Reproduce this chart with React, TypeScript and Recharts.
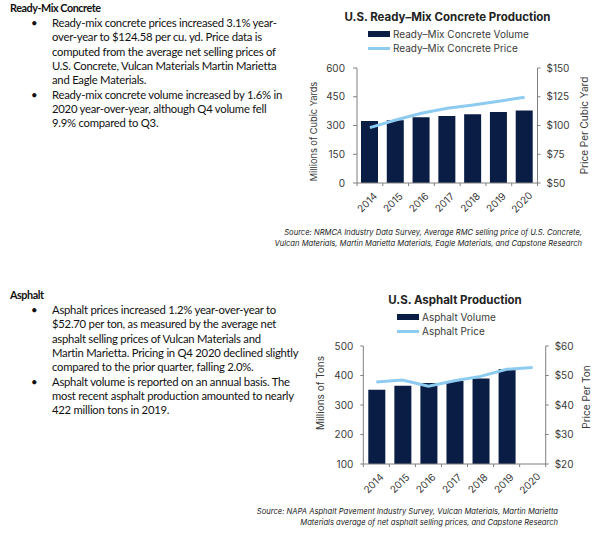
import React from 'react';
import { ComposedChart, Bar, Line, XAxis, YAxis } from 'recharts';

const years = ['2014', '2015', '2016', '2017', '2018', '2019', '2020'];

// ready-mix concrete
const rmcVolume = [324, 327, 343, 350, 359, 371, 378];
const rmcPrice = [98.1, 104.8, 110.6, 115.0, 117.9, 121.1, 124.6];
const rmcVolumeTicks = [0, 150, 300, 450, 600];
const rmcPriceTicks = [50, 75, 100, 125, 150];

// asphalt (no 2020 volume reported yet)
const asphaltVolume = [352, 365, 375, 381, 390, 422, null];
const asphaltPrice = [47.8, 48.5, 46.4, 48.2, 49.7, 52.1, 52.7];
const asphaltVolumeTicks = [100, 200, 300, 400, 500];
const asphaltPriceTicks = [20, 30, 40, 50, 60];

const rmcText = [
  ['Ready-mix concrete prices increased 3.1% year-',
    'over-year to $124.58 per cu. yd. Price data is',
    'computed from the average net selling prices of',
    'U.S. Concrete, Vulcan Materials Martin Marietta',
    'and Eagle Materials.'],
  ['Ready-mix concrete volume increased by 1.6% in',
    '2020 year-over-year, although Q4 volume fell',
    '9.9% compared to Q3.'],
];

const asphaltText = [
  ['Asphalt prices increased 1.2% year-over-year to',
    '$52.70 per ton, as measured by the average net',
    'asphalt selling prices of Vulcan Materials and',
    'Martin Marietta. Pricing in Q4 2020 declined slightly',
    'compared to the prior quarter, falling 2.0%.'],
  ['Asphalt volume is reported on an annual basis. The',
    'most recent asphalt production amounted to nearly',
    '422 million tons in 2019.'],
];

const NAVY = '#0A1D45';
const SKY = '#8ECBF0';
const AXIS = '#808080';
const INK = '#3A3A3A';
const CHART_FONT = 'Inter, "Open Sans", sans-serif';
const BODY_FONT = 'Lato, "Liberation Sans", sans-serif';
const LINE_H = 14.3;

const makeTick = (band: number) => (props: any) => {
  const { x, y, payload, index } = props;
  const cx = x - 3;
  const cy = y + 19;
  return (
    <g>
      <line x1={x + band / 2} x2={x + band / 2} y1={y} y2={y + 3} stroke={AXIS} />
      {index === 0 && <line x1={x - band / 2} x2={x - band / 2} y1={y} y2={y + 3} stroke={AXIS} />}
      <text
        x={cx}
        y={cy}
        textAnchor="middle"
        dominantBaseline="central"
        fontSize={10}
        fill={INK}
        fontFamily={CHART_FONT}
        transform={`rotate(-45, ${cx}, ${cy})`}
      >
        {payload.value}
      </text>
    </g>
  );
};

const bodyStyle = {
  position: 'absolute' as const,
  lineHeight: '16px',
  fontSize: 11.3,
  letterSpacing: -0.25,
  fontFamily: BODY_FONT,
  color: '#111',
  whiteSpace: 'nowrap' as const,
};

const TextBlock = ({ title, top, paras }: { title: string; top: number; paras: string[][] }) => {
  let row = 0;
  return (
    <>
      <div style={{ ...bodyStyle, left: 10, top: top - 8, fontWeight: 700, fontSize: 10.8, letterSpacing: -0.45 }}>
        {title}
      </div>
      {paras.map((lines, p) =>
        lines.map((ln, i) => {
          const cy = top + 15 + LINE_H * row++;
          return (
            <React.Fragment key={`${p}-${i}`}>
              {i === 0 && <div style={{ ...bodyStyle, left: 31, top: cy - 8 }}>•</div>}
              <div style={{ ...bodyStyle, left: 52, top: cy - 8 }}>{ln}</div>
            </React.Fragment>
          );
        })
      )}
    </>
  );
};

const ChartHeader = ({ title, center, top, legendLeft, bar, line }: { title: string; center: number; top: number; legendLeft: number; bar: string; line: string }) => (
  <>
    <div style={{ position: 'absolute', left: center - 150, width: 300, top: top - 8, lineHeight: '16px', textAlign: 'center', fontWeight: 700, fontSize: 11.5, fontFamily: CHART_FONT, color: '#222' }}>
      {title}
    </div>
    <div style={{ position: 'absolute', left: legendLeft, top: top + 10, fontFamily: CHART_FONT, fontSize: 10, color: INK, lineHeight: '14px' }}>
      <div style={{ display: 'flex', alignItems: 'center' }}>
        <span style={{ display: 'inline-block', width: 22, height: 6, background: NAVY, marginRight: 3 }} />
        <span style={{ whiteSpace: 'nowrap' }}>{bar}</span>
      </div>
      <div style={{ display: 'flex', alignItems: 'center' }}>
        <span style={{ display: 'inline-block', width: 22, height: 3, background: SKY, marginRight: 3 }} />
        <span style={{ whiteSpace: 'nowrap' }}>{line}</span>
      </div>
    </div>
  </>
);

const Source = ({ right, top, lines }: { right: number; top: number; lines: string[] }) => (
  <div style={{ position: 'absolute', right, top, textAlign: 'right', fontStyle: 'italic', fontSize: 7.6, lineHeight: '10.5px', fontFamily: CHART_FONT, color: '#222', whiteSpace: 'nowrap' }}>
    {lines.map((l) => <div key={l}>{l}</div>)}
  </div>
);

const axisLabel = (value: string, dx: number, dy: number, size = 10) => ({
  value,
  angle: -90,
  position: 'center' as const,
  dx,
  dy,
  style: { fontSize: size, fill: INK, fontFamily: CHART_FONT, textAnchor: 'middle' as const },
});

const rmcData = years.map((year, i) => ({ year, volume: rmcVolume[i], price: rmcPrice[i] }));
const asphaltData = years.map((year, i) => ({ year, volume: asphaltVolume[i], price: asphaltPrice[i] }));

const tickStyle = { fontSize: 10, fill: INK, fontFamily: CHART_FONT };

export default function App() {
  return (
    <div style={{ position: 'absolute', left: 0, top: 0, width: 600, height: 536, background: '#fff', overflow: 'hidden' }}>
      <TextBlock title="Ready-Mix Concrete" top={8} paras={rmcText} />
      <TextBlock title="Asphalt" top={295} paras={asphaltText} />

      <ChartHeader title="U.S. Ready–Mix Concrete Production" center={447.5} top={17} legendLeft={368} bar="Ready–Mix Concrete Volume" line="Ready–Mix Concrete Price" />
      <div style={{ position: 'absolute', left: 300, top: 55 }}>
        <ComposedChart width={300} height={170} data={rmcData} margin={{ top: 13, right: 0, bottom: 0, left: 0 }} barSize={17}>
          <XAxis dataKey="year" interval={0} height={42} tickLine={false} tickSize={0} tickMargin={0} axisLine={{ stroke: AXIS }} tick={makeTick(180.5 / years.length)} />
          <YAxis yAxisId="left" width={57} domain={[0, 600]} ticks={rmcVolumeTicks} tickSize={4} tickMargin={8} axisLine={{ stroke: AXIS }} tickLine={{ stroke: AXIS }} tick={tickStyle} label={axisLabel('Millions of Cubic Yards', -15, 6, 9.2)} />
          <YAxis yAxisId="right" orientation="right" width={62.5} domain={[50, 150]} ticks={rmcPriceTicks} tickFormatter={(v) => `$${v}`} tickSize={3} tickMargin={6} axisLine={{ stroke: AXIS }} tickLine={{ stroke: AXIS }} tick={tickStyle} label={axisLabel('Price Per Cubic Yard', 16, 0)} />
          <Bar yAxisId="left" dataKey="volume" fill={NAVY} isAnimationActive={false} />
          <Line yAxisId="right" dataKey="price" type="linear" stroke={SKY} strokeWidth={3} dot={false} isAnimationActive={false} />
        </ComposedChart>
      </div>
      <Source right={18} top={228} lines={[
        'Source: NRMCA Industry Data Survey, Average RMC selling price of U.S. Concrete,',
        'Vulcan Materials, Martin Marietta Materials, Eagle Materials, and Capstone Research',
      ]} />

      <ChartHeader title="U.S. Asphalt Production" center={455} top={300} legendLeft={397} bar="Asphalt Volume" line="Asphalt Price" />
      <div style={{ position: 'absolute', left: 300, top: 333 }}>
        <ComposedChart width={300} height={170} data={asphaltData} margin={{ top: 13, right: 0, bottom: 0, left: 0 }} barSize={17}>
          <XAxis dataKey="year" interval={0} height={39} tickLine={false} tickSize={0} tickMargin={0} axisLine={{ stroke: AXIS }} tick={makeTick(182.4 / years.length)} />
          <YAxis yAxisId="left" width={63.3} domain={[100, 500]} ticks={asphaltVolumeTicks} tickSize={3} tickMargin={7} axisLine={{ stroke: AXIS }} tickLine={{ stroke: AXIS }} tick={tickStyle} label={axisLabel('Millions of Tons', -11, -12)} />
          <YAxis yAxisId="right" orientation="right" width={54.3} domain={[20, 60]} ticks={asphaltPriceTicks} tickFormatter={(v) => `$${v}`} tickSize={3} tickMargin={6} axisLine={{ stroke: AXIS }} tickLine={{ stroke: AXIS }} tick={tickStyle} label={axisLabel('Price Per Ton', 14, -8)} />
          <Bar yAxisId="left" dataKey="volume" fill={NAVY} isAnimationActive={false} />
          <Line yAxisId="right" dataKey="price" type="linear" stroke={SKY} strokeWidth={3} dot={false} isAnimationActive={false} />
        </ComposedChart>
      </div>
      <Source right={42} top={507} lines={[
        'Source: NAPA Asphalt Pavement Industry Survey, Vulcan Materials, Martin Marietta',
        'Materials average of net asphalt selling prices, and Capstone Research',
      ]} />
    </div>
  );
}
